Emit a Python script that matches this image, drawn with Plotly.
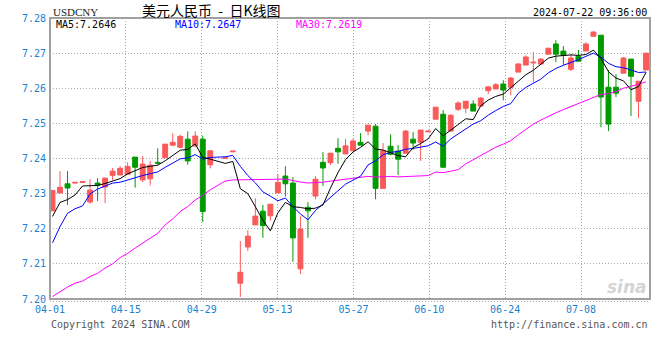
import plotly.graph_objects as go

# ---------------- data ----------------
# candle slot index (weekday count from 2024-04-01; slot 22 = 05-01 absent)
slots = list(range(0, 22)) + list(range(23, 80))

opens = [7.2251, 7.2302, 7.2328, 7.2330, 7.2332, 7.2276, 7.2330, 7.2319, 7.2352, 7.2353,
         7.2355, 7.2404, 7.2339, 7.2342, 7.2389, 7.2402, 7.2438, 7.2432, 7.2455, 7.2436,
         7.2455, 7.2382, 7.2400, 7.2419, 7.2045, 7.2148, 7.2211, 7.2250, 7.2237, 7.2302,
         7.2350, 7.2330, 7.2086, 7.2261, 7.2293, 7.2389, 7.2388, 7.2429, 7.2413, 7.2422,
         7.2446, 7.2478, 7.2492, 7.2315, 7.2435, 7.2421, 7.2415, 7.2455, 7.2446, 7.2476,
         7.2512, 7.2526, 7.2478, 7.2540, 7.2543, 7.2555, 7.2549, 7.2593, 7.2598, 7.2612,
         7.2603, 7.2646, 7.2666, 7.2672, 7.2669, 7.2697, 7.2726, 7.2706, 7.2654, 7.2691,
         7.2706, 7.2748, 7.2751, 7.2603, 7.2603, 7.2643, 7.2683, 7.2563, 7.2652]
highs = [7.2309, 7.2364, 7.2364, 7.2334, 7.2335, 7.2341, 7.2344, 7.2346, 7.2373, 7.2379,
         7.2389, 7.2404, 7.2407, 7.2393, 7.2429, 7.2441, 7.2472, 7.2468, 7.2477, 7.2477,
         7.2465, 7.2422, 7.2402, 7.2421, 7.2165, 7.2196, 7.2287, 7.2268, 7.2270, 7.2356,
         7.2378, 7.2347, 7.2235, 7.2276, 7.2350, 7.2418, 7.2415, 7.2458, 7.2455, 7.2456,
         7.2472, 7.2495, 7.2498, 7.2444, 7.2469, 7.2438, 7.2481, 7.2475, 7.2481, 7.2478,
         7.2546, 7.2538, 7.2526, 7.2563, 7.2563, 7.2566, 7.2575, 7.2606, 7.2615, 7.2623,
         7.2632, 7.2672, 7.2694, 7.2703, 7.2686, 7.2714, 7.2737, 7.2720, 7.2697, 7.2709,
         7.2731, 7.2763, 7.2751, 7.2652, 7.2640, 7.2689, 7.2683, 7.2620, 7.2700]
lows = [7.2251, 7.2302, 7.2268, 7.2329, 7.2331, 7.2271, 7.2279, 7.2273, 7.2338, 7.2353,
        7.2355, 7.2317, 7.2333, 7.2323, 7.2382, 7.2402, 7.2435, 7.2430, 7.2382, 7.2432,
        7.2219, 7.2372, 7.2400, 7.2419, 7.2006, 7.2137, 7.2211, 7.2174, 7.2223, 7.2302,
        7.2292, 7.2106, 7.2071, 7.2174, 7.2284, 7.2322, 7.2381, 7.2385, 7.2413, 7.2422,
        7.2438, 7.2466, 7.2284, 7.2315, 7.2409, 7.2353, 7.2415, 7.2425, 7.2393, 7.2476,
        7.2512, 7.2375, 7.2478, 7.2535, 7.2529, 7.2535, 7.2549, 7.2584, 7.2598, 7.2566,
        7.2580, 7.2646, 7.2666, 7.2617, 7.2669, 7.2697, 7.2674, 7.2666, 7.2649, 7.2677,
        7.2706, 7.2748, 7.2489, 7.2478, 7.2575, 7.2643, 7.2521, 7.2515, 7.2652]
closes = [7.2309, 7.2318, 7.2316, 7.2332, 7.2334, 7.2310, 7.2324, 7.2344, 7.2364, 7.2372,
          7.2377, 7.2375, 7.2384, 7.2381, 7.2387, 7.2441, 7.2446, 7.2463, 7.2393, 7.2464,
          7.2249, 7.2422, 7.2402, 7.2421, 7.2076, 7.2179, 7.2236, 7.2209, 7.2270, 7.2332,
          7.2328, 7.2174, 7.2199, 7.2251, 7.2341, 7.2373, 7.2415, 7.2419, 7.2436, 7.2450,
          7.2438, 7.2495, 7.2315, 7.2422, 7.2412, 7.2398, 7.2478, 7.2444, 7.2481, 7.2478,
          7.2546, 7.2375, 7.2523, 7.2558, 7.2563, 7.2535, 7.2572, 7.2604, 7.2610, 7.2595,
          7.2629, 7.2669, 7.2689, 7.2674, 7.2683, 7.2714, 7.2697, 7.2694, 7.2686, 7.2677,
          7.2726, 7.2760, 7.2575, 7.2498, 7.2586, 7.2686, 7.2634, 7.2620, 7.2700]

# moving-average values for the first candles (window reaches before 04-01)
ma5_head = [7.2235, 7.2275, 7.2283, 7.2296]
ma10_head = [7.2160, 7.2206, 7.2244, 7.2257, 7.2265, 7.2299, 7.2313, 7.2322, 7.2330]
ma30_head = [7.2007, 7.2021, 7.2034, 7.2045, 7.2051, 7.2064, 7.2073, 7.2088, 7.2100, 7.2118,
             7.2130, 7.2145, 7.2159, 7.2173, 7.2187, 7.2211, 7.2228, 7.2249, 7.2263, 7.2282,
             7.2295, 7.2311, 7.2336, 7.2339, 7.2339, 7.2339, 7.2339, 7.2339, 7.2340]

ma_labels = ["MA5:7.2646", "MA10:7.2647", "MA30:7.2619"]

x_tick_slots = [0, 10, 20, 30, 40, 50, 60, 70]
x_tick_text = ["04-01", "04-15", "04-29", "05-13", "05-27", "06-10", "06-24", "07-08"]
y_ticks = [7.20, 7.21, 7.22, 7.23, 7.24, 7.25, 7.26, 7.27, 7.28]

NB = "\u00a0"
title_text = "美元人民币" + NB * 2 + "-" + NB * 2 + "日K线图"
symbol_text = "USDCNY"
time_text = "2024-07-22 09:36:00"
copyright_text = "Copyright 2024 SINA.COM"
url_text = "http://finance.sina.com.cn"


def moving_avg(vals, n, head):
    out = list(head)
    for i in range(len(head), len(vals)):
        out.append(sum(vals[i - n + 1:i + 1]) / n)
    return out


ma5 = moving_avg(closes, 5, ma5_head)
ma10 = moving_avg(closes, 10, ma10_head)
ma30 = moving_avg(closes, 30, ma30_head)

# ---------------- style ----------------
RED = "#fa5a5a"
GREEN = "#009a00"
BLUE_TXT = "#1a82d2"
MONO = "DejaVu Sans Mono"

W, H = 660, 360
ML, MR, MT, MB = 50, 10, 18, 61
PW = W - ML - MR
PH = H - MT - MB
PX_PER_SLOT = 7.513
X0 = -2.5 / PX_PER_SLOT
X1 = X0 + PW / PX_PER_SLOT
GRID_STEP = 1.0097  # gridline spacing relative to candle spacing

tickvals = [X0 + GRID_STEP * s for s in x_tick_slots]


def px_x(px):
    return (px - ML) / PW


def px_y(py):
    return (MT + PH - py) / PH


fig = go.Figure()

fig.add_trace(go.Candlestick(
    x=slots, open=opens, high=highs, low=lows, close=closes,
    increasing=dict(line=dict(color=RED, width=1), fillcolor=RED),
    decreasing=dict(line=dict(color=GREEN, width=1), fillcolor=GREEN),
    whiskerwidth=0, showlegend=False, hoverinfo="skip",
))

for vals, col in [(ma30, "#ff00ff"), (ma10, "#0000ff"), (ma5, "#000000")]:
    fig.add_trace(go.Scatter(x=slots, y=vals, mode="lines",
                             line=dict(color=col, width=1),
                             showlegend=False, hoverinfo="skip"))

fig.update_layout(
    width=W, height=H,
    margin=dict(l=ML, r=MR, t=MT, b=MB),
    paper_bgcolor="white", plot_bgcolor="white",
    boxgap=0.35, boxgroupgap=0,
    xaxis=dict(range=[X0, X1], rangeslider=dict(visible=False),
               tickmode="array", tickvals=tickvals, ticktext=x_tick_text,
               showgrid=True, gridcolor="#a8a8a8", griddash="1px,2px", gridwidth=1,
               zeroline=False, showline=False, ticks="",
               tickfont=dict(family=MONO, size=10, color=BLUE_TXT),
               ticklabelstandoff=3),
    yaxis=dict(range=[7.20, 7.28], tickmode="array", tickvals=y_ticks,
               ticktext=[f"{v:.2f}" for v in y_ticks],
               showgrid=True, gridcolor="#a8a8a8", griddash="1px,2px", gridwidth=1,
               zeroline=False, showline=False, ticks="",
               tickfont=dict(family=MONO, size=10, color=BLUE_TXT),
               ticklabelstandoff=3),
)

shapes = [
    dict(type="rect", xref="paper", yref="paper", x0=0, x1=1, y0=0, y1=1,
         line=dict(color="#a0a0a0", width=2), fillcolor="rgba(0,0,0,0)", layer="above"),
    dict(type="line", xref="paper", yref="paper", x0=0, x1=1,
         y0=px_y(301.5), y1=px_y(301.5), line=dict(color="#a8a8a8", width=1, dash="1px,2px")),
]
fig.update_layout(shapes=shapes)

ann = []
ann.append(dict(x=px_x(50.5), y=px_y(12), text=symbol_text, xanchor="left", yanchor="middle",
                font=dict(family="Liberation Serif", size=11, color="#222")))
ann.append(dict(x=px_x(140), y=px_y(10.5), text=title_text, xanchor="left", yanchor="middle",
                font=dict(family="Noto Sans CJK SC", size=14, color="#000")))
ann.append(dict(x=px_x(649), y=px_y(12.5), text=time_text, xanchor="right", yanchor="middle",
                font=dict(family=MONO, size=10, color="#000")))
for txt, xp, col in zip(ma_labels, [54, 173, 294], ["#000000", "#0000ff", "#ff00ff"]):
    ann.append(dict(x=px_x(xp), y=px_y(24.5), text=txt, xanchor="left", yanchor="middle",
                    font=dict(family=MONO, size=10, color=col)))
ann.append(dict(x=px_x(49), y=px_y(324), text=copyright_text, xanchor="left", yanchor="middle",
                font=dict(family=MONO, size=10, color="#555")))
ann.append(dict(x=px_x(650), y=px_y(324), text=url_text, xanchor="right", yanchor="middle",
                font=dict(family=MONO, size=10, color="#555")))
ann.append(dict(x=px_x(649), y=px_y(287), text="<b><i>sina</i></b>", xanchor="right", yanchor="middle",
                font=dict(family="DejaVu Sans", size=17, color="#d4d4d4")))
for a in ann:
    a.update(xref="paper", yref="paper", showarrow=False)
fig.update_layout(annotations=ann)

fig.write_html("out.html")
